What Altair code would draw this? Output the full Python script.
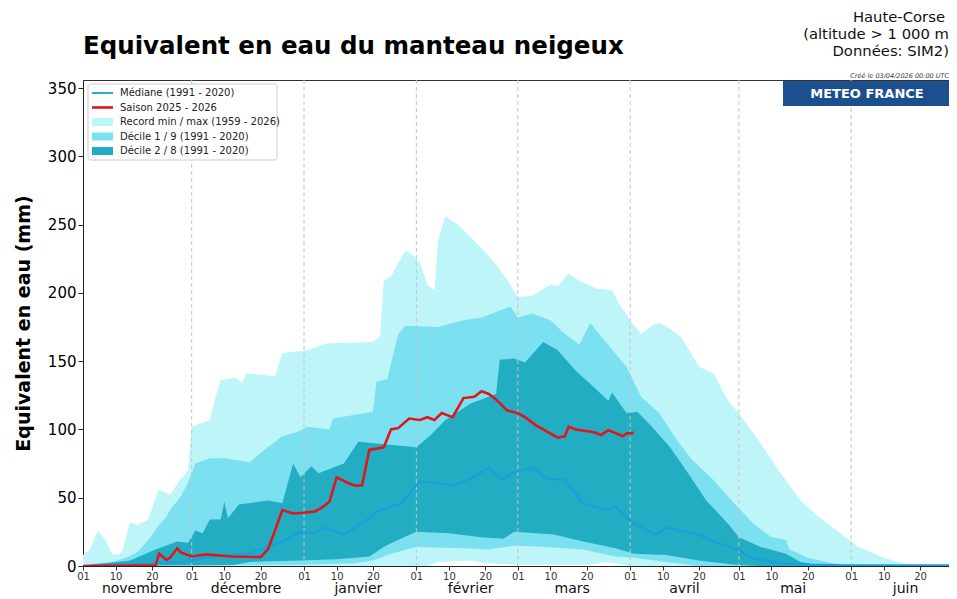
import altair as alt
import pandas as pd

START = pd.Timestamp("2025-11-01")

# ---- data (day offset from 1 Nov 2025, value in mm) ----
rec_max_days = [0, 2, 4, 6, 8, 10, 11, 13, 15, 18, 20, 21, 24, 27, 29, 30, 32, 35, 37, 38, 42, 44, 45, 50, 53, 55, 62, 67, 80, 82, 83, 85, 87, 89, 91, 93, 95, 97, 98, 100, 103, 108, 113, 117, 120, 124, 129, 131, 134, 137, 142, 146, 148, 151, 154, 157, 159, 162, 165, 170, 174, 178, 181, 187, 192, 198, 203, 209, 214, 221, 227, 232, 241]
rec_max_vals = [8, 12, 26, 20, 9, 8, 12, 32, 30, 34, 50, 56, 52, 64, 70, 102, 104, 107, 128, 136, 138, 134, 141, 140, 139, 156, 158, 163, 164, 168, 209, 212, 222, 231, 228, 222, 206, 202, 239, 256, 251, 238, 224, 210, 197, 198, 206, 205, 214, 209, 203, 202, 192, 180, 170, 176, 178, 174, 168, 146, 141, 121, 112, 90, 70, 48, 36, 24, 14, 6, 1.5, 0, 0]

d9_days = [0, 4, 8, 12, 15, 18, 21, 23, 24, 27, 29, 31, 35, 39, 46, 50, 55, 59, 62, 68, 69, 78, 80, 81, 84, 87, 89, 98, 105, 110, 114, 118, 120, 124, 129, 133, 137, 140, 144, 150, 154, 159, 164, 168, 174, 179, 185, 190, 194, 195, 200, 207, 215, 241]
d9_vals = [0, 2, 3, 6, 10, 19, 30, 36, 41, 51, 61, 75, 79, 79, 76, 85, 95, 98, 102, 100, 108, 112, 113, 135, 137, 170, 176, 175, 180, 182, 186, 190, 182, 185, 180, 170, 162, 178, 165, 146, 124, 112, 92, 78, 63, 48, 31, 21, 19, 12, 6, 2, 0, 0]

d8_days = [0, 6, 13, 20, 26, 29, 31, 33, 35, 38, 39, 40, 43, 51, 55, 58, 60, 63, 65, 72, 76, 92, 96, 100, 107, 114, 115, 119, 122, 127, 131, 136, 141, 145, 146, 150, 153, 157, 162, 167, 172, 178, 181, 187, 194, 198, 205, 241]
d8_vals = [0, 2, 4, 12, 18, 17, 26, 24, 34, 34, 47, 35, 45, 48, 46, 75, 65, 73, 68, 75, 91, 87, 96, 107, 119, 126, 151, 152, 149, 164, 158, 143, 131, 121, 127, 112, 113, 102, 87, 68, 48, 31, 21, 14, 9, 3, 0, 0]

d2_days = [0, 40, 46, 60, 70, 79, 83, 86, 92, 101, 110, 116, 119, 125, 130, 138, 147, 152, 161, 170, 180, 186, 241]
d2_vals = [0, 0, 3, 4, 5, 7, 14, 18, 25, 24, 21, 20, 25, 24, 23, 18, 13, 9, 8, 4, 1, 0, 0]

d1_days = [0, 60, 75, 80, 85, 92, 105, 112, 119, 128, 138, 147, 152, 161, 170, 241]
d1_vals = [0, 1, 2, 4, 9, 14, 13, 12, 15, 14, 12, 7, 6, 3, 0, 0]

rec_min_days = [0, 95, 98, 106, 112, 118, 140, 144, 147, 150, 241]
rec_min_vals = [0, 0, 3, 4, 2, 1, 1, 3, 2, 0, 0]

med_days = [0, 18, 27, 36, 46, 51, 56, 60, 64, 67, 72, 78, 81, 88, 91, 93, 102, 107, 112, 116, 119, 124, 128, 133, 138, 144, 147, 152, 158, 161, 170, 174, 181, 184, 193, 200, 210, 241]
med_vals = [0, 2, 3, 7, 9, 14, 19, 25, 24, 28, 23, 33, 40, 46, 56, 62, 59, 64, 72, 63, 69, 72, 64, 63, 46, 41, 43, 31, 23, 28, 23, 18, 12, 6, 2, 1, 0.5, 0.5]

season_days = [0, 20, 21, 23, 24, 26, 27, 30, 34, 41, 49, 51, 53, 55, 58, 61, 64, 66, 68, 70, 73, 75, 77, 79, 83, 85, 87, 90, 93, 95, 97, 99, 102, 105, 108, 110, 112, 114, 117, 120, 122, 125, 127, 131, 133, 134, 136, 141, 143, 145, 149, 150, 152]
season_vals = [0, 0.5, 9, 4.5, 6, 13, 10, 7, 8.5, 7, 6.5, 12, 26, 41, 38.5, 39, 40, 43, 47, 65, 61, 59, 59, 85, 87, 100, 101, 108, 107, 109, 107, 112, 109, 123, 124, 128, 126, 122, 114, 112, 109, 103, 100, 94, 95, 102, 100, 98, 96, 99.5, 95, 97, 97.5]

month_names = ["novembre", "décembre", "janvier", "février", "mars", "avril", "mai", "juin"]
month_starts = ["2025-11-01", "2025-12-01", "2026-01-01", "2026-02-01", "2026-03-01", "2026-04-01", "2026-05-01", "2026-06-01"]

legend_labels = ["Médiane (1991 - 2020)", "Saison 2025 - 2026", "Record min / max (1959 - 2026)",
                 "Décile 1 / 9 (1991 - 2020)", "Décile 2 / 8 (1991 - 2020)"]

C_REC = "#bdf5f9"
C_D19 = "#7be0ef"
C_D28 = "#22adc2"
C_MED = "#18a0dc"
C_SEA = "#e0161b"
C_MF = "#1c4f8e"
FONT = "DejaVu Sans"

W, H = 866, 486


def series(days, vals):
    return pd.DataFrame({"date": START + pd.to_timedelta(days, unit="D"), "v": vals})


tick_dates = []
for ms in month_starts:
    y, m, _ = ms.split("-")
    for dd in (1, 10, 20):
        tick_dates.append(alt.DateTime(year=int(y), month=int(m), date=dd))

x_enc = alt.X(
    "date:T",
    scale=alt.Scale(domain=[alt.DateTime(year=2025, month=11, date=1), alt.DateTime(year=2026, month=6, date=28)]),
    axis=alt.Axis(values=tick_dates, format="%d", labelFontSize=10, labelColor="#333", labelFont=FONT,
                  tickSize=4, tickColor="#333", domainColor="#222", grid=False, labelAngle=0,
                  labelOverlap=False, labelPadding=1, labelFlush=False),
    title=None,
)
y_enc = alt.Y(
    "v:Q",
    scale=alt.Scale(domain=[0, 356], nice=False, zero=True),
    axis=alt.Axis(values=[0, 50, 100, 150, 200, 250, 300, 350], labelFontSize=15, labelColor="#000",
                  labelFont=FONT, tickSize=5, tickColor="#222", domainColor="#222", grid=False,
                  labelPadding=2, titleFont=FONT, titleFontSize=19, titleFontWeight="bold",
                  titleColor="#000", titlePadding=14),
    title="Equivalent en eau (mm)",
)


def area(days, vals, color):
    return alt.Chart(series(days, vals)).mark_area(color=color, opacity=1, clip=True).encode(x=x_enc, y=y_enc)


areas = [
    area(rec_max_days, rec_max_vals, C_REC),
    area(d9_days, d9_vals, C_D19),
    area(d8_days, d8_vals, C_D28),
    area(d2_days, d2_vals, C_D19),
    area(d1_days, d1_vals, C_REC),
    area(rec_min_days, rec_min_vals, "#ffffff"),
]

grid_df = pd.DataFrame({"date": pd.to_datetime(month_starts[1:])})
grid = alt.Chart(grid_df).mark_rule(color="#c4c4c4", strokeDash=[4, 3], strokeWidth=1).encode(x=x_enc)

median = alt.Chart(series(med_days, med_vals)).mark_line(color=C_MED, strokeWidth=2.2, clip=True).encode(x=x_enc, y=y_enc)
season = alt.Chart(series(season_days, season_vals)).mark_line(color=C_SEA, strokeWidth=2.6, clip=True).encode(x=x_enc, y=y_enc)

mid_df = pd.DataFrame({"date": pd.to_datetime(month_starts) + pd.Timedelta(days=15), "name": month_names})
months = alt.Chart(mid_df).mark_text(baseline="top", fontSize=14, font=FONT, color="#111").encode(
    x=x_enc, y=alt.value(H + 16), text="name:N")

one = pd.DataFrame({"k": [0]})

# legend (manual box)
leg_box = alt.Chart(one).mark_rect(fill="white", stroke="#cccccc", strokeWidth=1, cornerRadius=3).encode(
    x=alt.value(5), x2=alt.value(194), y=alt.value(4), y2=alt.value(80))
leg_y = [13 + 14.5 * i for i in range(5)]
leg_med = alt.Chart(one).mark_rule(color=C_MED, strokeWidth=1.8).encode(
    x=alt.value(9), x2=alt.value(30), y=alt.value(leg_y[0]))
leg_sea = alt.Chart(one).mark_rule(color=C_SEA, strokeWidth=2.6).encode(
    x=alt.value(9), x2=alt.value(30), y=alt.value(leg_y[1]))
leg_sw = []
for i, c in zip((2, 3, 4), (C_REC, C_D19, C_D28)):
    leg_sw.append(alt.Chart(one).mark_rect(fill=c).encode(
        x=alt.value(9), x2=alt.value(30), y=alt.value(leg_y[i] - 4), y2=alt.value(leg_y[i] + 4)))
leg_txt_df = pd.DataFrame({"label": legend_labels, "py": leg_y})
leg_txt = alt.Chart(leg_txt_df).mark_text(align="left", baseline="middle", fontSize=10, font=FONT, color="#222").encode(
    x=alt.value(37), y=alt.Y("py:Q", scale=None), text="label:N")

# header texts
title = alt.Chart(one).mark_text(text="Equivalent en eau du manteau neigeux", align="left", baseline="middle",
                                 fontSize=24.5, fontWeight="bold", font=FONT, color="#000").encode(
    x=alt.value(0), y=alt.value(-33))
hdr_lines = ["Haute-Corse", "(altitude > 1 000 m", "Données: SIM2)"]
hdr_df = pd.DataFrame({"t": hdr_lines, "py": [-62, -45, -28], "px": [862, 866, 866]})
hdr = alt.Chart(hdr_df).mark_text(align="right", baseline="middle", fontSize=14.8, font=FONT, color="#111").encode(
    x=alt.X("px:Q", scale=None), y=alt.Y("py:Q", scale=None), text="t:N")
created = alt.Chart(one).mark_text(text="Créé le 03/04/2026 00:00 UTC", align="right", baseline="middle",
                                   fontSize=6.5, fontStyle="italic", font=FONT, color="#333").encode(
    x=alt.value(866), y=alt.value(-4))
mf_box = alt.Chart(one).mark_rect(fill=C_MF).encode(x=alt.value(700), x2=alt.value(866), y=alt.value(1), y2=alt.value(26))
mf_txt = alt.Chart(one).mark_text(text="METEO FRANCE", align="center", baseline="middle", fontSize=13,
                                  fontWeight="bold", font=FONT, color="white").encode(
    x=alt.value(784), y=alt.value(14))

chart = alt.layer(
    *areas, grid, median, season, months,
    leg_box, leg_med, leg_sea, *leg_sw, leg_txt,
    title, hdr, created, mf_box, mf_txt,
).properties(
    width=W, height=H,
    autosize=alt.AutoSizeParams(type="none"),
    padding={"left": 75, "top": 72, "right": 0, "bottom": 33},
    background="white",
).configure_view(stroke="#333", strokeWidth=1)

chart.save("out.html", embed_options={"renderer": "svg", "actions": False})
